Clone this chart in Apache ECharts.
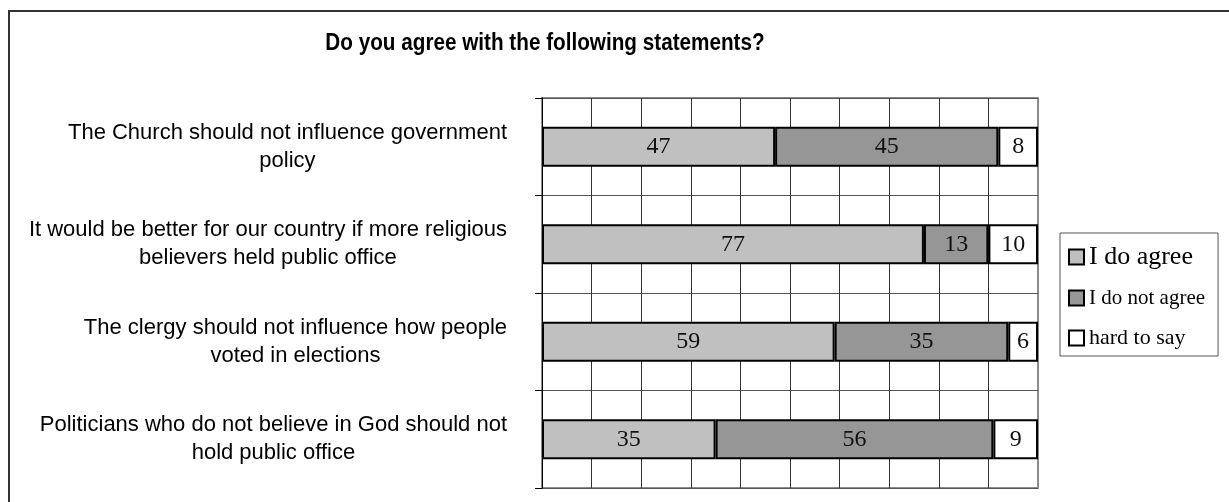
<!DOCTYPE html>
<html>
<head>
<meta charset="utf-8">
<script src="https://cdn.jsdelivr.net/npm/echarts@6/dist/echarts.min.js"></script>
<style>
html,body{margin:0;padding:0;background:#fff;}
#chart{width:1229px;height:502px;}
</style>
</head>
<body>
<div id="chart"></div>
<script>
const titleText = 'Do you agree with the following statements?';
const categories = [
  'The Church should not influence government\npolicy',
  'It would be better for our country if more religious\nbelievers held public office',
  'The clergy should not influence how people\nvoted in elections',
  'Politicians who do not believe in God should not\nhold public office'
];
const seriesNames = ['I do agree', 'I do not agree', 'hard to say'];
const agree = [47, 77, 59, 35];
const notAgree = [45, 13, 35, 56];
const hardToSay = [8, 10, 6, 9];
const seriesColors = ['#c0c0c0', '#969696', '#ffffff'];

const chart = echarts.init(document.getElementById('chart'), null, {renderer: 'canvas'});

function barSeries(name, data, color) {
  return {
    name: name,
    type: 'bar',
    stack: 'total',
    barWidth: 40,
    data: data,
    itemStyle: {color: color, borderColor: '#000', borderWidth: 2},
    label: {
      show: true,
      position: 'inside',
      fontFamily: 'Liberation Serif',
      fontSize: 24,
      color: '#111'
    }
  };
}

const xSplitColors = ['#888', '#333', '#333', '#333', '#333', '#333', '#333', '#333', '#333', '#333', '#888'];

chart.setOption({
  backgroundColor: '#fff',
  animation: false,
  graphic: [
    {
      type: 'rect',
      z: -10,
      shape: {x: 9, y: 11, width: 1400, height: 700},
      style: {fill: 'none', stroke: '#333', lineWidth: 2}
    },
    {
      type: 'text',
      x: 545,
      y: 44,
      scaleX: 0.9,
      style: {
        text: titleText,
        font: 'bold 23px "Liberation Sans"',
        fill: '#000',
        align: 'center',
        verticalAlign: 'middle'
      }
    }
  ],
  grid: {
    left: 542, top: 98, width: 496, height: 390,
    show: true, borderColor: '#8c8c8c', borderWidth: 2, backgroundColor: '#fff'
  },
  legend: {
    orient: 'vertical',
    left: 1060,
    top: 233,
    padding: [11, 13, 6, 8],
    itemWidth: 15,
    itemHeight: 15,
    itemGap: 16,
    icon: 'rect',
    backgroundColor: '#fff',
    borderColor: '#555',
    borderWidth: 1,
    itemStyle: {borderColor: '#000', borderWidth: 2},
    textStyle: {fontFamily: 'Liberation Serif', fontSize: 22, color: '#000', lineHeight: 24},
    data: [
      {name: seriesNames[0], textStyle: {fontSize: 26}},
      {name: seriesNames[1], textStyle: {fontSize: 21}},
      {name: seriesNames[2], textStyle: {fontSize: 22}}
    ]
  },
  xAxis: {
    type: 'value',
    min: 0,
    max: 100,
    interval: 10,
    axisLabel: {show: false},
    axisLine: {show: false},
    axisTick: {show: false},
    splitLine: {show: true, lineStyle: {color: xSplitColors, width: 1}}
  },
  yAxis: {
    type: 'category',
    inverse: true,
    data: categories,
    axisLine: {show: true, lineStyle: {color: '#000', width: 1}},
    axisTick: {show: true, length: 7, lineStyle: {color: '#000'}},
    splitLine: {show: true, lineStyle: {color: '#555', width: 1}},
    axisLabel: {
      margin: 35,
      formatter: function (v) {
        return v.split('\n').map(function (s) { return '{c|' + s + '}'; }).join('\n');
      },
      rich: {
        c: {align: 'center', fontFamily: 'Liberation Sans', fontSize: 22, lineHeight: 28, color: '#000'}
      }
    }
  },
  series: [
    barSeries(seriesNames[0], agree, seriesColors[0]),
    barSeries(seriesNames[1], notAgree, seriesColors[1]),
    barSeries(seriesNames[2], hardToSay, seriesColors[2])
  ]
});
</script>
</body>
</html>
